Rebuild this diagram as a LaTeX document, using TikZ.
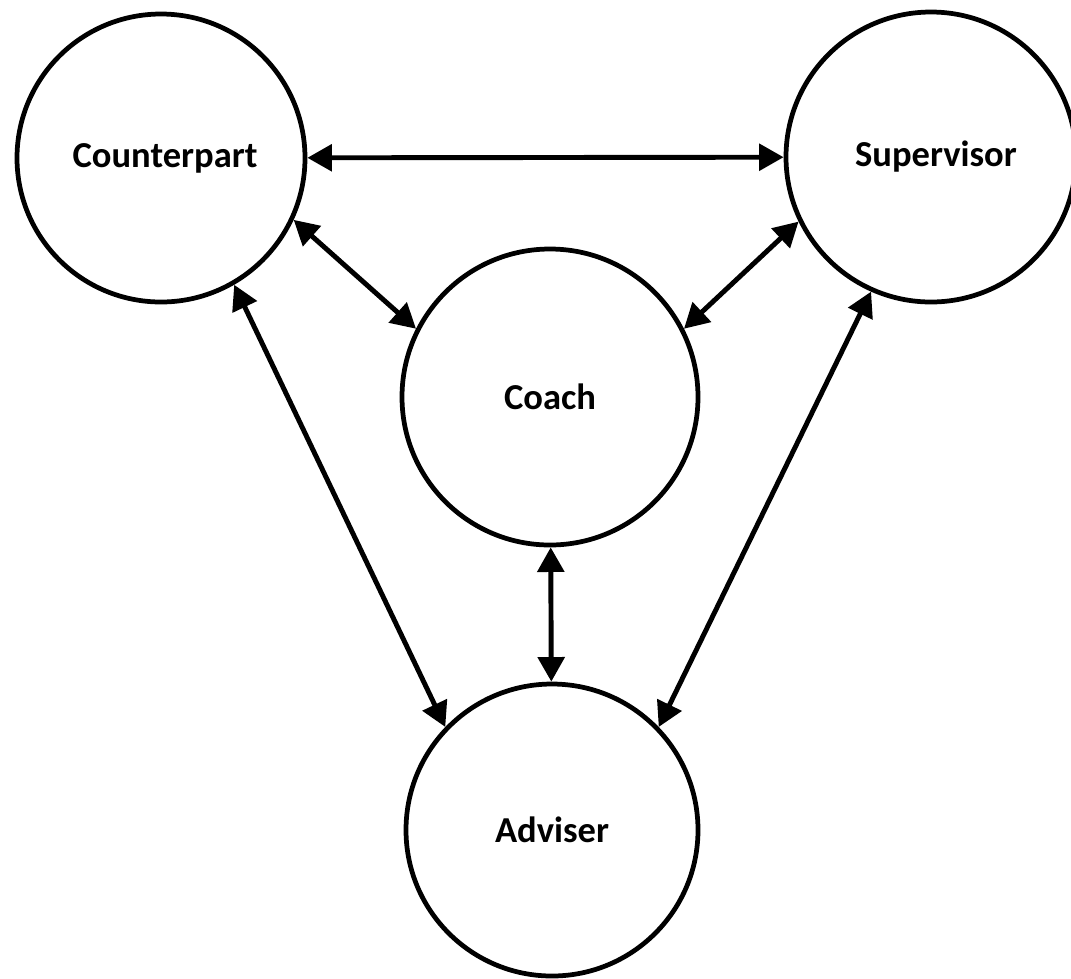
\documentclass[tikz,border=0pt]{standalone}
\usepackage{fontspec}
\setmainfont{Carlito}
\usetikzlibrary{arrows.meta}

\begin{document}
\begin{tikzpicture}[
    party/.style={circle, draw, line width=1.35pt, minimum size=2.9cm, inner sep=0pt,
      font=\fontsize{10.4}{12}\selectfont\bfseries},
    link/.style={line width=1.4pt, {Triangle[length=7pt,width=7.5pt]}-{Triangle[length=7pt,width=7.5pt]}}]

    \useasboundingbox (0,0) rectangle (10.71,-9.78);
    % Define the four parties
    \node[party, minimum size=2.88cm] (cp) at (1.61,-1.58) {\hspace{0.08cm}Counterpart};
    \node[party] (sv) at (9.31,-1.57) {\hspace{0.1cm}Supervisor};
    \node[party, minimum size=2.96cm] (co) at (5.50,-3.97) {Coach};
    \node[party, minimum size=2.92cm] (ad) at (5.52,-8.30) {Adviser};
    % Draw two-way links between them
    \draw[link] (cp) -- (sv);
    \draw[link] (cp.-25) -- (co.153);
    \draw[link] (sv.206) -- (co.27);
    \draw[link] (cp.-60) -- (ad.136);
    \draw[link] (sv.246) -- (ad.44);
    \draw[link] (co) -- (ad);
\end{tikzpicture}
\end{document}
